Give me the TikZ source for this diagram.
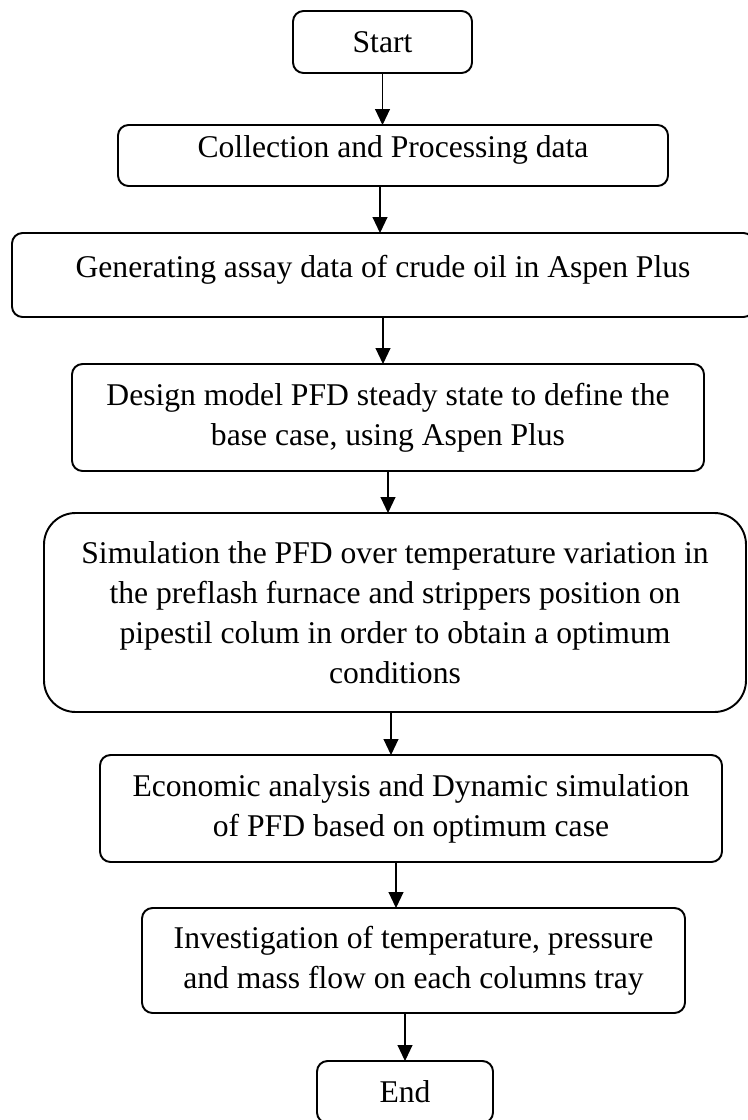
\documentclass[tikz,border=0pt]{standalone}
\usepackage{fontspec}
\setmainfont{Liberation Serif}
\usepackage{tikz}
\usetikzlibrary{arrows.meta, positioning, calc}

\begin{document}
\begin{tikzpicture}[
    stepbox/.style={draw=black, line width=1.1pt, rounded corners=6pt, inner sep=0pt, outer sep=0pt, align=center, font=\fontsize{18}{22.8}\selectfont},
    flow/.style={draw=black, line width=0.6pt, -{Triangle[length=0.32cm, width=0.3cm]}}
  ]
  \useasboundingbox (0,0) rectangle (14.96,-22.4);

  \node[stepbox, minimum width=3.58cm, minimum height=1.24cm] (start) at (7.65, -0.84) {Start};
  \node[stepbox, minimum width=11cm, minimum height=1.22cm, text depth=0.36cm] (collect) at (7.86, -3.11) {Collection and Processing data};
  \node[stepbox, minimum width=14.84cm, minimum height=1.68cm, text depth=0.36cm] (gen) at (7.66, -5.5) {Generating assay data of crude oil in Aspen Plus};
  \node[stepbox, minimum width=12.64cm, minimum height=2.14cm] (design) at (7.76, -8.35) {Design model PFD steady state to define the\\ base case, using Aspen Plus};
  \node[stepbox, rounded corners=18pt, minimum width=14.04cm, minimum height=3.98cm] (sim) at (7.9, -12.25) {Simulation the PFD over temperature variation in\\ the preflash furnace and strippers position on\\ pipestil colum in order to obtain a optimum\\ conditions};
  \node[stepbox, minimum width=12.44cm, minimum height=2.14cm] (econ) at (8.22, -16.17) {Economic analysis and Dynamic simulation\\ of PFD based on optimum case};
  \node[stepbox, minimum width=10.86cm, minimum height=2.1cm] (inv) at (8.27, -19.21) {Investigation of temperature, pressure\\ and mass flow on each columns tray};
  \node[stepbox, minimum width=3.52cm, minimum height=1.24cm] (end) at (8.1, -21.84) {End};

  % arrows between the steps
  \draw[flow] (start.south) -- (start.south |- collect.north);
  \draw[flow] ([xshift=-0.26cm]collect.south) -- ([xshift=-0.26cm]collect.south |- gen.north);
  \draw[flow] (gen.south) -- (gen.south |- design.north);
  \draw[flow] (design.south) -- (design.south |- sim.north);
  \draw[flow] ([xshift=-0.08cm]sim.south) -- ([xshift=-0.08cm]sim.south |- econ.north);
  \draw[flow] ([xshift=-0.3cm]econ.south) -- ([xshift=-0.3cm]econ.south |- inv.north);
  \draw[flow] (end.north |- inv.south) -- (end.north);
\end{tikzpicture}
\end{document}
